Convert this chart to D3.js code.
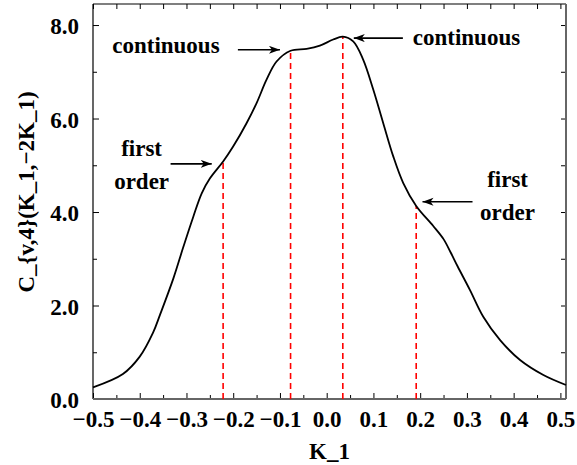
<html><head>
<meta charset="utf-8">
<script src="https://d3js.org/d3.v7.min.js"></script>
<style>
  body { margin: 0; background: #fff; }
  text { font-family: "Liberation Serif", "Times New Roman", serif; font-weight: bold; }
</style>
</head>
<body>
<div id="chart"></div>
<script>
    const svgWidth = 577;
    const svgHeight = 465;
    const plotLeft = 93, plotRight = 566, plotTop = 4, plotBottom = 399;
    const fontSize = 23;

    // curve
    const kValues = [-0.5, -0.436, -0.4, -0.3715, -0.3567, -0.328, -0.3068, -0.2854, -0.2674, -0.2497,
                     -0.2216, -0.2002, -0.1715, -0.150, -0.1287, -0.1073, -0.0773, -0.043, -0.0146, 0.0139,
                     0.0345, 0.0567, 0.078, 0.0996, 0.121, 0.1424, 0.1638, 0.1915, 0.228, 0.25,
                     0.265, 0.28, 0.3066, 0.335, 0.371, 0.4137, 0.4636, 0.512];
    const cValues = [0.25, 0.535, 0.906, 1.42, 1.80, 2.58, 3.25, 3.90, 4.40, 4.72,
                     5.08, 5.40, 5.90, 6.33, 6.83, 7.22, 7.45, 7.49, 7.56, 7.69,
                     7.75, 7.65, 7.26, 6.62, 5.90, 5.19, 4.62, 4.13, 3.70, 3.42,
                     3.14, 2.84, 2.33, 1.76, 1.26, 0.835, 0.514, 0.30];

    // transition points (red dashed lines)
    const transK = [-0.2216, -0.0773, 0.0345, 0.1915];
    const transC = [5.08, 7.45, 7.75, 4.13];

    const xTicks = [-0.5, -0.4, -0.3, -0.2, -0.1, 0.0, 0.1, 0.2, 0.3, 0.4, 0.5];
    const xMinor = [-0.45, -0.35, -0.25, -0.15, -0.05, 0.05, 0.15, 0.25, 0.35, 0.45];
    const yTicks = [0, 2, 4, 6, 8];
    const yMinor = [1, 3, 5, 7];

    // annotations
    const annLines = [["continuous"], ["continuous"], ["first", "order"], ["first", "order"]];
    const annK = [-0.344, 0.299, -0.396, 0.387];
    const annC = [7.41, 7.57, 5.20, 4.54];
    const arrowFromK = [-0.19, 0.163, -0.334, 0.312];
    const arrowToK = [-0.10, 0.058, -0.246, 0.205];
    const arrowC = [7.47, 7.72, 5.03, 4.22];

    const svg = d3.select("#chart").append("svg")
        .attr("width", svgWidth)
        .attr("height", svgHeight);

    const x = d3.scaleLinear().domain([-0.5, 0.512]).range([plotLeft, plotRight]);
    const y = d3.scaleLinear().domain([0, 8.45]).range([plotBottom, plotTop]);

    const fmt = d3.format(".1f");

    // minor ticks first
    svg.append("g").attr("transform", "translate(0," + plotBottom + ")")
        .call(d3.axisBottom(x).tickValues(xMinor).tickSize(-4).tickFormat(""))
        .call(g => g.select(".domain").remove());
    svg.append("g").attr("transform", "translate(0," + plotTop + ")")
        .call(d3.axisTop(x).tickValues(xMinor.concat(xTicks)).tickSize(-5).tickFormat(""))
        .call(g => g.select(".domain").remove());
    svg.append("g").attr("transform", "translate(" + plotLeft + ",0)")
        .call(d3.axisLeft(y).tickValues(yMinor).tickSize(-4).tickFormat(""))
        .call(g => g.select(".domain").remove());
    svg.append("g").attr("transform", "translate(" + plotRight + ",0)")
        .call(d3.axisRight(y).tickValues(yMinor.concat(yTicks)).tickSize(-5).tickFormat(""))
        .call(g => g.select(".domain").remove());

    // major axes with labels
    const xAxis = svg.append("g").attr("transform", "translate(0," + plotBottom + ")")
        .call(d3.axisBottom(x).tickValues(xTicks).tickSize(-6).tickPadding(12).tickFormat(fmt).tickSizeOuter(0));
    const yAxis = svg.append("g").attr("transform", "translate(" + plotLeft + ",0)")
        .call(d3.axisLeft(y).tickValues(yTicks).tickSize(-6).tickPadding(14).tickFormat(fmt).tickSizeOuter(0));

    [xAxis, yAxis].forEach(g => {
        g.selectAll("text").attr("font-size", fontSize).attr("fill", "#000")
            .style("font-family", "'Liberation Serif', serif").style("font-weight", "bold");
        g.selectAll(".tick line").attr("stroke", "#000");
    });
    yAxis.selectAll("text").attr("dy", "0.37em");
    xAxis.select(".domain").remove();
    yAxis.select(".domain").remove();

    // frame
    svg.append("line").attr("x1", plotLeft).attr("x2", plotRight).attr("y1", plotTop).attr("y2", plotTop)
        .attr("stroke", "#000").attr("stroke-width", 1.2);
    svg.append("line").attr("x1", plotLeft).attr("x2", plotLeft).attr("y1", plotTop).attr("y2", plotBottom)
        .attr("stroke", "#000").attr("stroke-width", 1.2);
    svg.append("line").attr("x1", plotLeft).attr("x2", plotRight).attr("y1", plotBottom).attr("y2", plotBottom)
        .attr("stroke", "#666").attr("stroke-width", 2);
    svg.append("line").attr("x1", plotRight).attr("x2", plotRight).attr("y1", plotTop).attr("y2", plotBottom)
        .attr("stroke", "#666").attr("stroke-width", 2);

    // red dashed lines
    svg.append("g").selectAll("line")
        .data(transK)
        .join("line")
        .attr("x1", d => x(d)).attr("x2", d => x(d))
        .attr("y1", y(0)).attr("y2", (d, i) => y(transC[i]))
        .attr("stroke", "#ff0000")
        .attr("stroke-width", 1.6)
        .attr("stroke-dasharray", "6,4");

    // curve
    const points = kValues.map((k, i) => [k, cValues[i]]);
    svg.append("path")
        .datum(points)
        .attr("fill", "none")
        .attr("stroke", "#000")
        .attr("stroke-width", 1.8)
        .attr("d", d3.line().x(d => x(d[0])).y(d => y(d[1])).curve(d3.curveCatmullRom.alpha(0.5)));

    // arrows
    svg.append("defs").append("marker")
        .attr("id", "head")
        .attr("markerUnits", "userSpaceOnUse")
        .attr("markerWidth", 12).attr("markerHeight", 10)
        .attr("refX", 11).attr("refY", 4)
        .attr("orient", "auto")
        .append("path")
        .attr("d", "M0,0 L11,4 L0,8 L3,4 Z")
        .attr("fill", "#000");

    svg.append("g").selectAll("line")
        .data(arrowFromK)
        .join("line")
        .attr("x1", d => x(d)).attr("x2", (d, i) => x(arrowToK[i]))
        .attr("y1", (d, i) => y(arrowC[i])).attr("y2", (d, i) => y(arrowC[i]))
        .attr("stroke", "#000")
        .attr("stroke-width", 1.6)
        .attr("marker-end", "url(#head)");

    // annotation text
    annLines.forEach((lines, i) => {
        const t = svg.append("text")
            .attr("x", x(annK[i]))
            .attr("y", y(annC[i]))
            .attr("text-anchor", "middle")
            .attr("font-size", fontSize);
        lines.forEach((s, j) => {
            t.append("tspan").attr("x", x(annK[i])).attr("dy", j == 0 ? 0 : "1.43em").text(s);
        });
    });

    // axis titles
    svg.append("text")
        .attr("x", (plotLeft + plotRight) / 2)
        .attr("y", 459)
        .attr("text-anchor", "middle")
        .attr("font-size", fontSize)
        .text("K_1");

    svg.append("text")
        .attr("transform", "translate(34," + 192 + ") rotate(-90)")
        .attr("text-anchor", "middle")
        .attr("font-size", fontSize)
        .text("C_{v,4}(K_1,\u22122K_1)");
</script>
</body></html>
